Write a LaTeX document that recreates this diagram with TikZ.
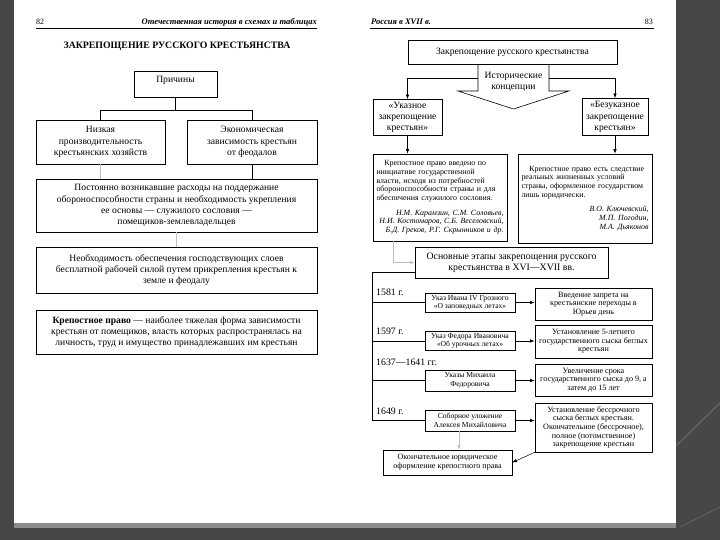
\documentclass[tikz,border=0pt]{standalone}
\usepackage{fontspec}
\setmainfont{Liberation Serif}
\usetikzlibrary{arrows.meta,positioning}

\begin{document}
\begin{tikzpicture}[x=1pt,y=-1pt,
  box/.style={draw,line width=0.7pt,align=center,inner sep=2pt,font=\fontsize{9.6}{11.2}\selectfont},
  stepbox/.style={draw,line width=0.6pt,align=center,inner sep=1.5pt,font=\fontsize{7.6}{8.4}\selectfont},
  resbox/.style={draw,line width=0.6pt,align=center,inner sep=1.5pt,font=\fontsize{8.1}{8.7}\selectfont},
  notebox/.style={draw,line width=0.6pt,align=left,text width=127pt,inner sep=3.5pt,font=\fontsize{7.9}{8.7}\selectfont},
  year/.style={anchor=west,inner sep=0pt,font=\fontsize{9.8}{10}\selectfont},
  link/.style={line width=0.7pt},
  faint/.style={draw=gray!50,line width=0.6pt},
  arr/.style={line width=0.7pt,-{Latex[length=4.5pt,width=3.5pt]}},
]
\useasboundingbox (0,0) rectangle (720,540);

% page and background
\fill[black!72] (0,0) rectangle (720,540);
\fill[black!45] (14,523) rectangle (676,528);
\fill[white] (14,0) rectangle (676,523);
\draw[black!55,line width=0.8pt] (677,445) -- (720,403);
\draw[black!58,line width=0.6pt] (680,527) -- (720,507);

% ---- left page ----
\node[anchor=west,inner sep=0pt,font=\fontsize{8}{9}\selectfont] (pl) at (36,22) {82};
\node[anchor=east,inner sep=0pt,font=\fontsize{8.5}{9}\selectfont\bfseries\itshape] (hl) at (317,22) {Отечественная история в схемах и таблицах};
\draw[line width=1pt] (36,29) -- (317,29);
\node[inner sep=0pt,font=\fontsize{9.8}{11}\selectfont\bfseries] (title) at (177,46) {ЗАКРЕПОЩЕНИЕ РУССКОГО КРЕСТЬЯНСТВА};

\node[box,minimum width=83,minimum height=26] (prich) at (175.5,84) {Причины\\[-2pt]\mbox{}};
\node[box,minimum width=129,minimum height=44] (nizk) at (100.5,142) {Низкая\\производительность\\крестьянских хозяйств};
\node[box,minimum width=130,minimum height=44] (econ) at (252,142) {Экономическая\\зависимость крестьян\\от феодалов};
\node[box,minimum width=281,minimum height=53] (rash) at (176.5,205.5) {Постоянно возникавшие расходы на поддержание\\обороноспособности страны и необходимость укрепления\\ее основы — служилого сословия —\\помещиков-землевладельцев};
\node[box,minimum width=281,minimum height=46] (neobh) at (176.5,270) {Необходимость обеспечения господствующих слоев\\бесплатной рабочей силой путем прикрепления крестьян к\\земле и феодалу};
\node[box,minimum width=281,minimum height=44] (krep) at (176.5,332) {\textbf{Крепостное право} — наиболее тяжелая форма зависимости\\крестьян от помещиков, власть которых распространялась на\\личность, труд и имущество принадлежавших им крестьян};

\draw[link] (prich.south) -- ++(0,13) -| (nizk.north);
\draw[link] (prich.south) ++(0,13) -| (econ.north);
\draw[faint] (nizk.south) -- (nizk.south |- rash.north);
\draw[link] (econ.south) -- (econ.south |- rash.north);
\draw[faint] (rash.south) -- (neobh.north);

% ---- right page ----
\node[anchor=west,inner sep=0pt,font=\fontsize{8.5}{9}\selectfont\bfseries\itshape] (hr) at (371,22) {Россия в XVII в.};
\node[anchor=east,inner sep=0pt,font=\fontsize{8}{9}\selectfont] (pr) at (653,22) {83};
\draw[line width=1pt] (370,29) -- (654,29);

\node[box,minimum width=209,minimum height=24] (zakr) at (512.5,52.5) {Закрепощение русского крестьянства};
\draw[line width=0.6pt] (478,64.5) -- (478,91) -- (458,91) -- (513.5,109) -- (569,91) -- (549,91) -- (549,64.5);
\node[inner sep=0pt,align=center,font=\fontsize{9.6}{11.2}\selectfont] (konc) at (513.5,82) {Исторические\\концепции};
\coordinate (kl) at (478,78);
\coordinate (kr) at (549,78);

\node[box,minimum width=69,minimum height=36] (ukaz) at (407.5,117.5) {«Указное\\закрепощение\\крестьян»};
\node[box,minimum width=66,minimum height=37] (bezukaz) at (615,117) {«Безуказное\\закрепощение\\крестьян»};
\draw[arr] (kl) -| (ukaz.north);
\draw[arr] (kr) -| (bezukaz.north);

\node[notebox,minimum height=87] (lnote) at (440,197.5) {\hspace*{1em}Крепостное право введено по\\инициативе государственной\\власти, исходя из потребностей\\обороноспособности страны и для\\обеспечения служилого сословия.\par\vspace{6pt}{\raggedleft\itshape Н.М. Карамзин, С.М. Соловьев,\\Н.И. Костомаров, С.Б. Веселовский,\\Б.Д. Греков, Р.Г. Скрынников и др.\par}};
\node[notebox,minimum height=89] (rnote) at (585,198.5) {\hspace*{1em}Крепостное право есть следствие\\реальных жизненных условий\\страны, оформленное государством\\лишь юридически.\par\vspace{6pt}{\raggedleft\itshape В.О. Ключевский,\\М.П. Погодин,\\М.А. Дьяконов\par}\vspace*{14pt}};
\draw[arr] (ukaz.south) -- (ukaz.south |- lnote.north);
\draw[arr] (bezukaz.south) -- (bezukaz.south |- rnote.north);

\node[box,minimum width=193,minimum height=31,font=\fontsize{9.8}{10.8}\selectfont] (osn) at (511.5,262.5) {Основные этапы закрепощения русского\\крестьянства в XVI—XVII вв.};
\draw[faint,-{Latex[length=4.5pt,width=3.5pt]}] ([xshift=21pt]lnote.south west) |- (osn.west);

% stages
\node[stepbox,minimum width=90,minimum height=19] (u1) at (470,302.5) {Указ Ивана IV Грозного\\«О заповедных летах»};
\node[stepbox,minimum width=90,minimum height=19] (u2) at (470,341) {Указ Федора Ивановича\\«Об урочных летах»};
\node[stepbox,minimum width=90,minimum height=21] (u3) at (470,380.5) {Указы Михаила\\Федоровича};
\node[stepbox,minimum width=90,minimum height=21] (u4) at (470,420.5) {Соборное уложение\\Алексея Михайловича};

\node[resbox,minimum width=117,minimum height=32] (r1) at (593.5,304) {Введение запрета на\\крестьянские переходы в\\Юрьев день};
\node[resbox,minimum width=117,minimum height=33] (r2) at (593.5,341.5) {Установление 5-летнего\\государственного сыска беглых\\крестьян};
\node[resbox,minimum width=117,minimum height=32] (r3) at (593.5,380) {Увеличение срока\\государственного сыска до 9, а\\затем до 15 лет};
\node[resbox,minimum width=117,minimum height=49] (r4) at (593.5,427.5) {Установление бессрочного\\сыска беглых крестьян.\\Окончательное (бессрочное),\\полное (потомственное)\\закрепощение крестьян};

\node[resbox,minimum width=129,minimum height=25] (itog) at (447.5,462.5) {Окончательное юридическое\\оформление крепостного права};

\node[year] (y1) at (376,292) {1581 г.};
\node[year] (y2) at (376,331) {1597 г.};
\node[year] (y3) at (376,362) {1637—1641 гг.};
\node[year] (y4) at (376,411) {1649 г.};

\coordinate (t0) at (372,272);
\draw[link] (osn.west |- t0) -- (t0) |- (u4.west);
\foreach \u in {u1,u2,u3}
  \draw[link] (t0 |- \u.west) -- (\u.west);

\draw[arr] (u1.east) -- (u1.east -| r1.west);
\draw[arr] (u2.east) -- (u2.east -| r2.west);
\draw[arr] (u3.east) -- (u3.east -| r3.west);
\draw[arr] (u4.east) -- (u4.east -| r4.west);

\draw[faint,-{Latex[length=4.5pt,width=3.5pt]}] ([xshift=-11pt]u4.south) -- ([xshift=-11pt]u4.south |- itog.north);
\draw[arr,line width=0.5pt] (r4.south west) -- (itog.east);

\end{tikzpicture}
\end{document}
